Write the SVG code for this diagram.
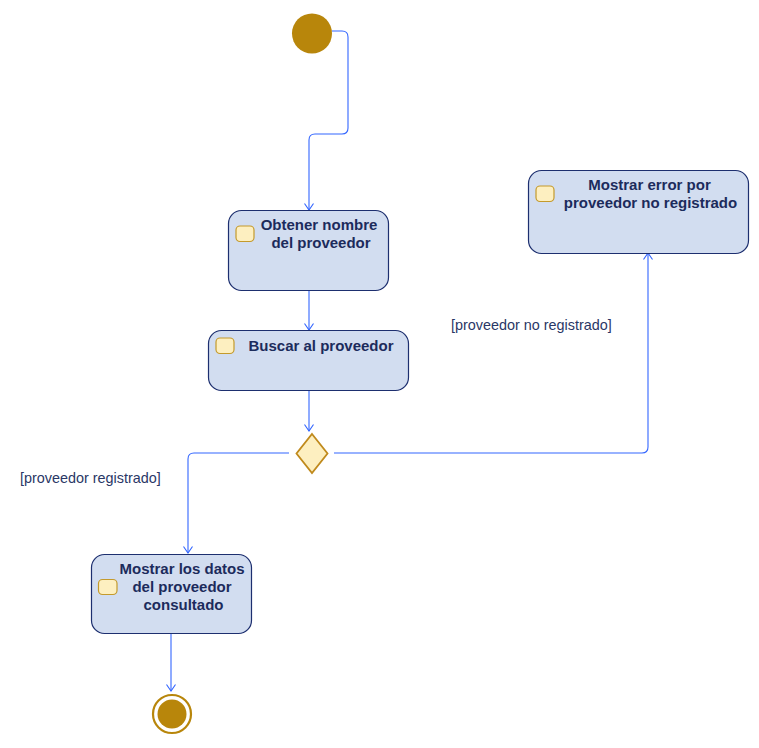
<svg xmlns="http://www.w3.org/2000/svg" width="759" height="748" viewBox="0 0 759 748">
  <style>
    .action { fill: #d2ddf0; stroke: #1d2f6f; stroke-width: 1.2; }
    .icon { fill: #fdefc0; stroke: #c49a2c; stroke-width: 1.2; }
    .title { font-family: "Liberation Sans", Arial, sans-serif; font-size: 15px; font-weight: bold; fill: #1c2b5c; text-anchor: middle; }
    .guard { font-family: "Liberation Sans", Arial, sans-serif; font-size: 14.4px; fill: #2a3766; }
    .flow { fill: none; stroke: #3366ff; stroke-width: 1.1; marker-end: url(#open); }
  </style>
  <defs>
    <marker id="open" markerWidth="12" markerHeight="12" refX="0" refY="0" viewBox="-8 -6 10 12" markerUnits="userSpaceOnUse" orient="auto">
      <path d="M -6.5 -4.5 L 0 0 L -6.5 4.5" fill="none" stroke="#3366ff" stroke-width="1.1"/>
    </marker>
  </defs>

  <rect width="759" height="748" fill="#ffffff"/>

  <!-- connectors -->
  <g id="connectors">
    <path class="flow" d="M 332 31 H 342 Q 348 31 348 37 V 128 Q 348 134 342 134 H 315 Q 309 134 309 140 V 210"/>
    <path class="flow" d="M 309 290 V 330"/>
    <path class="flow" d="M 309 390 V 431"/>
    <path class="flow" d="M 289 453 H 194 Q 188 453 188 459 V 553"/>
    <path class="flow" d="M 334 453 H 642 Q 648 453 648 447 V 253"/>
    <path class="flow" d="M 171 633 V 691"/>
    <text class="guard" x="451" y="330">[proveedor no registrado]</text>
    <text class="guard" x="20" y="483">[proveedor registrado]</text>
  </g>

  <!-- initial node -->
  <g id="start">
    <circle cx="312" cy="33.5" r="20" fill="#b8860b"/>
  </g>

  <g id="obtener">
    <rect class="action" x="228.5" y="210.5" width="160" height="80" rx="13"/>
    <rect class="icon" x="236" y="226" width="18" height="15.5" rx="4"/>
    <text class="title" x="319" y="230">Obtener nombre</text>
    <text class="title" x="321" y="248">del proveedor</text>
  </g>

  <g id="buscar">
    <rect class="action" x="208.5" y="330.5" width="200" height="60" rx="13"/>
    <rect class="icon" x="216" y="338" width="18" height="15.5" rx="4"/>
    <text class="title" x="321" y="351">Buscar al proveedor</text>
  </g>

  <g id="decision">
    <polygon points="312,434 327.5,453.5 312,473 296.5,453.5" fill="#fdefc0" stroke="#c08a1c" stroke-width="1.8"/>
  </g>

  <g id="error">
    <rect class="action" x="528.5" y="170.5" width="220" height="83" rx="13"/>
    <rect class="icon" x="536" y="186" width="18" height="15.5" rx="4"/>
    <text class="title" x="649.5" y="190">Mostrar error por</text>
    <text class="title" x="650.5" y="208">proveedor no registrado</text>
  </g>

  <g id="mostrar">
    <rect class="action" x="91.5" y="554.5" width="160" height="79" rx="13"/>
    <rect class="icon" x="98.5" y="579.5" width="18.5" height="15" rx="4"/>
    <text class="title" x="182" y="573.5">Mostrar los datos</text>
    <text class="title" x="182" y="592">del proveedor</text>
    <text class="title" x="183.5" y="610">consultado</text>
  </g>

  <!-- final node -->
  <g id="end">
    <circle cx="172" cy="714" r="19" fill="#ffffff" stroke="#b8860b" stroke-width="2.2"/>
    <circle cx="172" cy="714" r="14.5" fill="#b8860b"/>
  </g>
</svg>
